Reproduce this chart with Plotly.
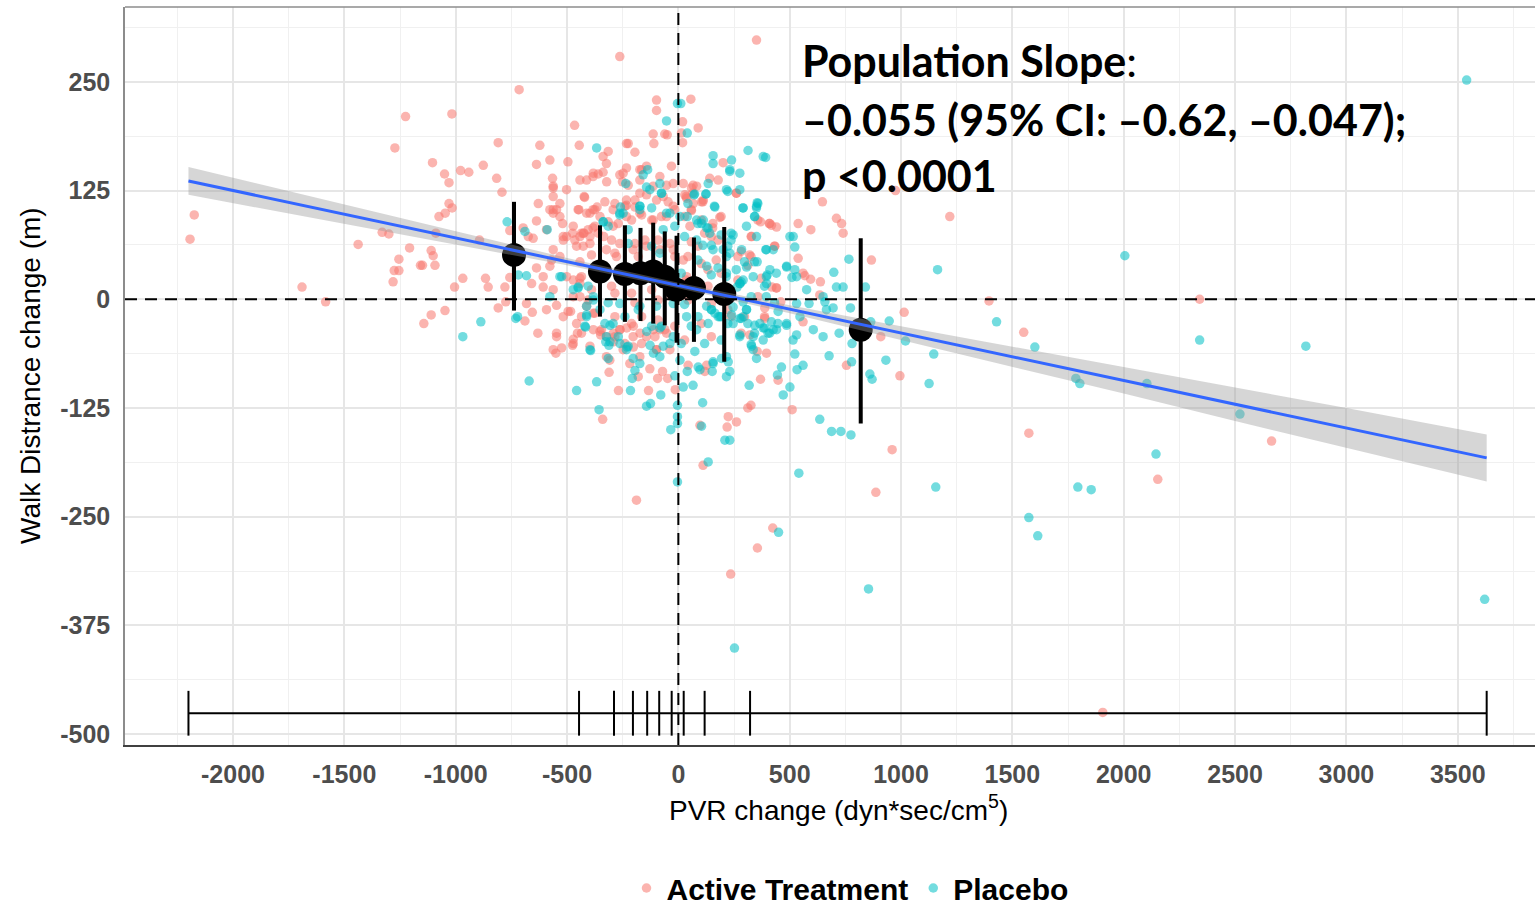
import plotly.graph_objects as go

# ---------------- data ----------------
active_pts = [
    (-2193, 69), (-2174, 97), (-1690, 14), (-1584, -3), (-1438, 63), (-1330, 77), (-1300, 75), (-1273, 174),
    (-1225, 210), (-1281, 20), (-1276, 33), (-1255, 33), (-1255, 46), (-1207, 59), (-1158, 39), (-1149, 39),
    (-1143, -28), (-1110, -18), (-1104, 157), (-1110, 56), (-1101, 50), (-1093, 39), (-1089, 76), (-1075, 95),
    (-1047, 99), (-1050, 144), (-1030, 134), (-1030, 110), (-1016, 105), (-1048, -13), (-1017, 213), (-1005, 14),
    (-968, 24), (-978, 148), (-941, 146), (-876, 154), (-866, 24), (-854, 14), (-893, 68), (-809, 180),
    (-816, 139), (-792, 123), (-779, 14), (-809, -10), (-775, -3), (-757, 79), (-757, 25), (-715, 241),
    (-263, 279), (-98, 229), (-98, 217), (-466, 200), (-113, 190), (-61, 190), (-50, 189), (-622, 177),
    (-445, 177), (-233, 179), (-225, 179), (-110, 179), (-315, 170), (-338, 164), (-195, 169), (-637, 155),
    (-577, 160), (-496, 158), (-565, 139), (-562, 128), (-562, 118), (-412, 137), (-383, 141), (-360, 144),
    (-338, 146), (-322, 135), (-263, 143), (-251, 135), (-233, 151), (-225, 131), (-165, 149), (-143, 153),
    (-173, 137), (-53, 131), (-31, 153), (-23, 133), (-421, 117), (-629, 110), (-532, 110), (-547, 103),
    (-577, 103), (-562, 99), (-447, 103), (-397, 99), (-383, 103), (-365, 106), (-330, 112), (-285, 110),
    (-233, 108), (-195, 106), (-637, 90), (-697, 82), (-674, 72), (-652, 70), (-520, 87), (-757, 57),
    (-637, 36), (-607, 26), (-659, 18), (-607, 14), (-562, 57), (-569, 45), (-472, 22), (-442, 24),
    (-517, 68), (-502, 72), (-475, 76), (-465, 68), (-442, 72), (-424, 76), (-405, 80), (-383, 82),
    (-360, 76), (-335, 72),
    (-689, -25), (-656, -15), (-682, -5), (-631, -39), (-547, -39), (-547, -7), (-550, -62), (-524, -56),
    (-495, -14), (-484, -14), (-475, -53), (-472, -46), (-453, -39), (-352, -37), (-349, -41), (-308, -70),
    (-311, -84), (-269, -105), (-218, -74), (-180, -89), (-128, -80), (-134, -105), (-93, -91), (-71, -83),
    (-48, -91), (-340, -138), (-14, -104), (-188, -231), (-292, -39), (-262, -35), (-232, -33), (-202, -31),
    (-292, -49), (-172, -39), (-112, -35), (-53, -39), (-98, -58), (-202, -55), (-38, -58), (-382, -16),
    (-423, 118), (-450, 103), (-412, 99), (-375, 103), (-240, 107), (-195, 114), (-143, 120), (-98, 114),
    (-46, 112), (-16, 103), (-375, 84), (-315, 89), (-270, 87), (-210, 91), (-165, 97), (-120, 91),
    (-76, 95), (-435, 76), (-397, 72), (-427, 61), (-390, 51), (-442, 43), (-300, 68), (-285, 53),
    (-195, 64), (-150, 68), (-91, 68), (-38, 64), (-180, 49), (-16, 49), (-435, 26), (-442, 3),
    (-390, 11), (-300, 15), (-285, 7), (-210, 7), (-195, -4), (-120, 11), (-91, -1), (-31, 3),
    (-435, -20), (-375, -16), (-285, -20), (-210, -28), (-165, -20), (-91, -24), (-61, -35), (-345, -35),
    (-285, -43), (-435, -39), (-240, -51), (-165, -51), (-105, -43), (-16, -31), (-405, -1),
    (-562, 103), (-532, 95), (-592, 80), (-517, 72), (-472, 84), (-427, 76), (-397, 64), (-457, 61),
    (-532, 49), (-577, 38), (-502, 26), (-442, 18), (-562, 11), (-472, 3), (-412, -8), (-592, -12),
    (-517, -20), (-457, -28), (-382, -35), (-323, -43), (-263, -35), (-203, -43), (-143, -43), (-83, -35),
    (-98, -58), (-173, -66), (-248, -58), (-323, -66), (-397, -54), (-472, -51), (-547, -43), (-562, -58),
    (-352, 95), (-293, 103), (-233, 114), (-173, 122), (-113, 130), (-68, 118), (-23, 107), (-53, 95),
    (-113, 91), (-173, 99), (-233, 95), (-293, 84), (-263, 64), (-323, 57), (-278, 49), (-203, 57),
    (-143, 61), (-83, 57), (-23, 57), (22, 45), (37, 26), (52, 84), (67, 110), (112, 114),
    (82, 130), (22, 133), (-83, 141), (-173, 149), (-248, 145), (-323, 156), (-382, 145), (-442, 137),
    (-502, 126), (-562, 130),
    (35, 118), (65, 122), (110, 112), (58, 103), (28, 95), (192, 95), (103, 91), (155, 87),
    (118, 76), (148, 72), (178, 68), (58, 66), (88, 61), (43, 49), (103, 41), (133, 34),
    (170, 45), (192, 30), (35, 22), (133, 15), (267, 22), (282, 55), (320, 51), (327, 72),
    (357, 91), (410, 87), (432, 61), (372, 24), (440, 13), (357, 3), (43, -1), (148, -5),
    (222, -12), (297, -20), (387, -20), (282, -39), (148, -43), (103, -28), (28, -47), (237, -20),
    (260, 122), (267, 49), (312, 39),
    (351, 298), (56, 230), (19, 204), (14, 191), (19, 180), (89, 197), (201, 157), (141, 139),
    (179, 137), (66, 131), (59, 128), (261, 122), (29, 120), (37, 116), (104, 112), (59, 102),
    (186, 94), (154, 82), (369, 89), (408, 87), (418, 85), (441, 83), (647, 112), (538, 87),
    (595, 80), (710, 93), (733, 87), (740, 76), (975, 125), (1219, 95), (538, 47), (433, 61),
    (329, 72), (326, 49), (560, 30), (594, 23), (568, 27), (638, 20), (867, 45), (441, 13),
    (635, 5), (420, 14),
    (1395, -2), (1014, -15), (995, -88), (909, -43), (755, -76), (960, -173), (887, -222), (511, -127),
    (448, -93), (369, -92), (326, -122), (312, -125), (224, -135), (219, -147), (261, -141), (97, -145),
    (111, -191), (354, -60), (396, -62), (127, -76), (119, -83), (44, -76), (388, -22), (560, -26),
    (321, -41), (388, -10), (460, -3),
    (1574, -154), (2664, -163), (2153, -207), (424, -263), (355, -286), (235, -316), (1906, -475),
    (2341, 0), (1551, -38),
]

placebo_pts = [
    (-968, -43), (-887, -26), (-769, 89), (-730, -22),
    (-4, 225), (-53, 205), (-367, 174), (-236, 133), (-158, 143), (-138, 149), (-143, 129), (-83, 133),
    (-75, 122), (-173, 103), (-260, 106), (-248, 99), (-589, 80), (-689, 78), (-719, 28), (-682, 27),
    (-524, 26), (-450, 14),
    (-722, -20), (-417, -32), (-394, -59), (-326, -49), (-312, -53), (-315, -68), (-367, -95), (-457, -105),
    (-670, -94), (-215, -105), (-230, -55), (-207, -91), (-195, -82), (-203, -68), (-79, -110), (-143, -123),
    (-125, -120), (-356, -127), (-34, -150), (-16, -88), (-4, -122), (-4, -135), (-4, -143), (-4, -210),
    (-262, -51), (-142, -37), (-83, -33), (-23, -43), (-68, -54), (-127, -53), (-307, -30), (-112, -62),
    (-412, -8),
    (-76, 122), (-263, 97), (-173, 107), (-120, 105), (-38, 99), (-337, 89), (-315, 84), (-225, 80),
    (-68, 80), (-16, 84), (-225, 64), (-120, 61), (-83, 53), (-450, 13), (-405, 15), (-315, -4),
    (-412, -18), (-382, -1), (-240, -20), (-180, -12), (-120, -31), (-76, -31), (-420, -31), (-330, -28),
    (-307, -49), (-225, -54), (-38, -51), (-270, -43), (-16, 11),
    (-338, 89), (-263, 99), (-173, 107), (-128, 126), (-53, 99), (7, 95), (112, 91), (141, 76),
    (82, 68), (156, 57), (216, 49), (127, 38), (216, 30), (276, 18), (336, 26), (396, 18),
    (127, -8), (186, -20), (246, -28), (306, -12), (366, -28), (426, -35), (486, -28), (546, -20),
    (606, -35), (665, -12), (276, -43), (336, -58), (216, -66), (156, -74), (97, -81), (7, -70),
    (-83, -66), (-173, -74), (-233, -58), (-323, -43), (-397, -58), (-293, -28), (-352, -12), (-412, -20),
    (-472, 11), (-532, 26), (-577, 3), (-382, 3), (-263, -5), (-173, -8), (-98, -8), (-23, -5),
    (37, -20), (82, -35), (411, 34), (486, 38), (531, 26), (576, 11), (650, 3), (516, 72),
    (426, 57), (351, 72), (306, 84), (351, 107), (276, 126), (231, 149), (156, 156), (381, 164),
    (73, 121), (125, 121), (222, 124), (43, 110), (162, 107), (290, 105), (357, 110), (342, 95),
    (88, 87), (133, 82), (192, 74), (237, 76), (28, 72), (110, 62), (148, 62), (222, 61),
    (237, 68), (395, 57), (297, 43), (342, 43), (88, 45), (178, 36), (148, 28), (13, 30),
    (65, 18), (215, 26), (260, 34), (395, 26), (387, 15), (282, 20), (440, 30), (327, 3),
    (395, 3), (432, -4), (28, -6), (192, -20), (88, -20), (148, -12), (282, -22), (312, -28),
    (342, -39), (387, -33), (447, -28), (410, -39), (222, -28), (58, -31), (118, -51), (327, -52),
    (192, -47), (13, -51),
    (11, 225), (40, 191), (156, 165), (239, 160), (231, 147), (276, 145), (313, 171), (392, 163),
    (134, 133), (70, 120), (216, 126), (123, 121), (164, 106), (354, 111), (351, 105), (291, 105),
    (343, 95), (40, 95), (82, 91), (104, 87), (127, 82), (501, 72), (523, 60), (393, 57),
    (284, 57), (354, 43), (306, 37), (399, 28), (486, 37), (523, 34), (698, 31), (766, 46),
    (1164, 34), (710, 14), (740, 14), (840, 14), (201, 57), (231, 53), (246, 74), (291, 22),
    (264, 14), (276, 18), (510, 25),
    (1429, -26), (947, -25), (1020, -48), (1147, -63), (1126, -97), (932, -70), (864, -26), (870, -92),
    (860, -86), (778, -72), (780, -51), (722, -39), (773, -10), (695, -10), (650, -43), (677, -65),
    (635, -138), (688, -152), (730, -152), (775, -156), (1156, -216), (541, -200), (471, -110), (501, -101),
    (533, -81), (560, -76), (523, -63), (463, -78), (445, -87), (318, -99), (209, -162), (231, -162),
    (104, -146), (109, -119), (134, -187), (329, -54), (351, -68), (224, -72), (194, -68), (231, -83),
    (216, -89), (156, -72), (152, -83), (89, -78), (66, -99), (22, -101), (40, -83), (74, -60),
    (343, -30), (381, -33), (418, -26), (441, -35), (486, -30), (515, -47), (531, -41), (336, -43),
    (381, -47), (403, -39), (276, -41), (448, -14), (531, -5), (587, -5), (658, -3), (276, -22),
    (291, -20), (306, -12), (246, -9), (291, -3), (239, -18), (179, -20), (164, -16), (149, -12),
    (134, -28),
    (2145, -178), (1794, -216), (1854, -219), (1574, -251), (1614, -272), (450, -268), (854, -333),
    (3621, -345), (252, -401), (3540, 252), (2005, 50), (1601, -55), (1785, -91), (1803, -97),
    (2104, -97), (2341, -47), (2818, -54), (2522, -132),
]

# binned means (deciles of PVR change) with error bars
bin_x = [-738, -352, -240, -170, -113, -61, -8, 70, 206, 819]
bin_y = [51, 32, 29, 30, 32, 26, 11, 13, 6, -35]
bin_hi = [112, 85, 85, 82, 88, 78, 73, 71, 83, 70]
bin_lo = [-13, -20, -26, -25, -28, -30, -50, -49, -72, -143]

# decile cut points shown as the rug line
decile_breaks = [-2200, -446, -289, -204, -140, -86, -30, 24, 118, 322, 3630]
rug_y = -476

# population regression line with 95% band
fit_x = [-2200, -1500, -1000, -500, 0, 500, 1000, 1500, 2000, 2500, 3000, 3630]
fit_y = [136, 97.7, 70.4, 43.1, 15.8, -11.5, -38.8, -66.1, -93.4, -120.7, -148, -182.4]
fit_lo = [120, 87, 63, 39, 12.5, -16, -47, -77.5, -108.5, -140, -171, -209.5]
fit_hi = [152, 109, 78, 47.5, 19, -7, -31, -54.5, -78.5, -102, -125, -155.5]

x_ticks = [-2000, -1500, -1000, -500, 0, 500, 1000, 1500, 2000, 2500, 3000, 3500]
y_ticks = [250, 125, 0, -125, -250, -375, -500]

# ---------------- figure ----------------
RED = "#F8766D"
CYAN = "#00BFC4"
SANS = "Liberation Sans"

fig = go.Figure()

fig.add_trace(go.Scatter(
    x=[p[0] for p in active_pts], y=[p[1] for p in active_pts], mode="markers",
    name="Active Treatment",
    marker=dict(color=RED, size=9.5, opacity=0.55, line=dict(width=0)),
))
fig.add_trace(go.Scatter(
    x=[p[0] for p in placebo_pts], y=[p[1] for p in placebo_pts], mode="markers",
    name="Placebo",
    marker=dict(color=CYAN, size=9.5, opacity=0.55, line=dict(width=0)),
))

fig.add_trace(go.Scatter(
    x=bin_x, y=bin_y, mode="markers", showlegend=False,
    marker=dict(color="black", size=24),
    error_y=dict(type="data", symmetric=False,
                 array=[h - m for h, m in zip(bin_hi, bin_y)],
                 arrayminus=[m - l for m, l in zip(bin_y, bin_lo)],
                 width=0, thickness=4, color="black"),
))

fig.add_trace(go.Scatter(x=fit_x, y=fit_lo, mode="lines", line=dict(width=0),
                         showlegend=False, hoverinfo="skip"))
fig.add_trace(go.Scatter(x=fit_x, y=fit_hi, mode="lines", line=dict(width=0),
                         fill="tonexty", fillcolor="rgba(153,153,153,0.4)",
                         showlegend=False, hoverinfo="skip"))
fig.add_trace(go.Scatter(x=fit_x, y=fit_y, mode="lines", showlegend=False,
                         line=dict(color="#3366FF", width=3)))

fig.add_trace(go.Scatter(x=[decile_breaks[0], decile_breaks[-1]], y=[rug_y, rug_y],
                         mode="lines", line=dict(color="black", width=2), showlegend=False))
fig.add_trace(go.Scatter(x=decile_breaks, y=[rug_y] * len(decile_breaks), mode="markers",
                         marker=dict(symbol="line-ns", size=32, line=dict(color="black", width=2)),
                         showlegend=False))

# dashed reference lines
fig.add_shape(type="line", xref="x", yref="paper", x0=0, x1=0, y0=0, y1=1,
              line=dict(color="black", width=2, dash="12px,8px"), layer="above")
fig.add_shape(type="line", xref="paper", yref="y", x0=0, x1=1, y0=0, y1=0,
              line=dict(color="black", width=2, dash="12px,8px"), layer="above")
# top border of panel
fig.add_shape(type="line", xref="paper", yref="paper", x0=0, x1=1, y0=1, y1=1,
              line=dict(color="#8C8C8C", width=1.5), layer="above")

# annotation text
ann_font = dict(family="Lato", size=43, color="black")
for txt, yp in [("<b>Population Slope</b>:", 61),
                ("<b>\u20130.055 (95% CI: \u20130.62, \u20130.047);</b>", 119),
                ("<b>p &lt;0.0001</b>", 176)]:
    fig.add_annotation(text=txt, xref="paper", yref="paper",
                       x=(800 - 125) / 1410, y=(745 - yp) / 738,
                       xanchor="left", yanchor="middle", showarrow=False, font=ann_font)

# axis titles
fig.add_annotation(text="PVR change (dyn*sec/cm<sup>5</sup>)", xref="paper", yref="paper",
                   x=(838 - 125) / 1410, y=(745 - 808) / 738, xanchor="center", yanchor="middle",
                   showarrow=False, font=dict(family=SANS, size=28, color="black"))
fig.add_annotation(text="Walk Distrance change (m)", xref="paper", yref="paper",
                   x=(30 - 125) / 1410, y=0.5, xanchor="center", yanchor="middle", textangle=-90,
                   showarrow=False, font=dict(family=SANS, size=28, color="black"))

tickfont = dict(family=SANS, size=25, color="#4D4D4D", weight="bold")
fig.update_xaxes(
    range=[-2485, 3847], tickvals=x_ticks, ticktext=[str(v) for v in x_ticks],
    showgrid=True, gridcolor="#E6E6E6", gridwidth=1.5, zeroline=False,
    minor=dict(dtick=250, tick0=0, showgrid=True, gridcolor="#F0F0F0", gridwidth=1),
    showline=True, linecolor="#404040", linewidth=2,
    tickfont=tickfont, ticks="", ticklabelstandoff=6,
)
fig.update_yaxes(
    range=[-512.5, 336], tickvals=y_ticks, ticktext=[str(v) for v in y_ticks],
    showgrid=True, gridcolor="#E6E6E6", gridwidth=1.5, zeroline=False,
    minor=dict(dtick=62.5, tick0=0, showgrid=True, gridcolor="#F0F0F0", gridwidth=1),
    showline=True, linecolor="#8C8C8C", linewidth=1.5,
    tickfont=tickfont, ticks="", ticklabelstandoff=8,
)

fig.update_layout(
    width=1535, height=907,
    margin=dict(l=125, r=0, t=7, b=162, autoexpand=False),
    plot_bgcolor="white", paper_bgcolor="white",
    showlegend=True,
    legend=dict(orientation="h", traceorder="normal",
                x=(850 - 125) / 1410, y=(745 - 888) / 738,
                xanchor="center", yanchor="middle",
                font=dict(family=SANS, size=30, color="black", weight="bold"),
                bgcolor="rgba(0,0,0,0)"),
)

fig.write_html("out.html")
